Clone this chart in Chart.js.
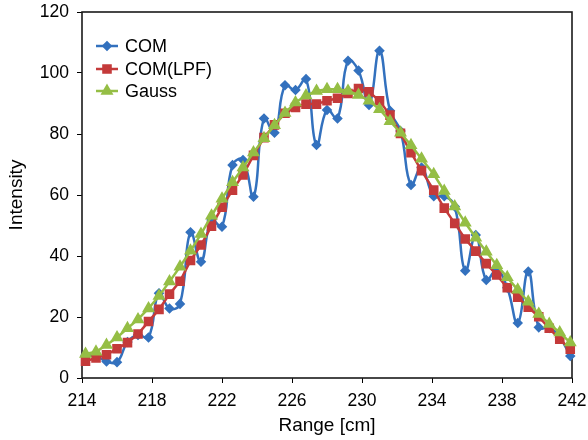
<!DOCTYPE html>
<html>
<head>
<meta charset="utf-8">
<script src="https://cdn.jsdelivr.net/npm/chart.js@4/dist/chart.umd.min.js"></script>
<style>
  body { margin: 0; background: #fff; }
  #wrap { width: 588px; height: 440px; }
</style>
</head>
<body>
<div id="wrap"><canvas id="rangeChart" width="588" height="440"></canvas></div>
<script>
// sample positions along the range axis (cm)
const rangeCm = [
  214.2, 214.8, 215.4, 216.0, 216.6, 217.2, 217.8, 218.4, 219.0, 219.6,
  220.2, 220.8, 221.4, 222.0, 222.6, 223.2, 223.8, 224.4, 225.0, 225.6,
  226.2, 226.8, 227.4, 228.0, 228.6, 229.2, 229.8, 230.4, 231.0, 231.6,
  232.2, 232.8, 233.4, 234.1, 234.7, 235.3, 235.9, 236.5, 237.1, 237.7,
  238.3, 238.9, 239.5, 240.1, 240.7, 241.3, 241.9
];

// raw centre of mass
const comValues = [
  7.5, 7.2, 5.4, 5.2, 11.8, 14.1, 13.3, 27.8, 22.8, 24.3,
  47.8, 38.1, 51.8, 49.6, 69.8, 71.5, 59.4, 85.1, 80.4, 96.0,
  94.4, 98.0, 76.4, 87.9, 85.1, 104.0, 100.8, 89.5, 107.3, 87.6,
  81.0, 63.3, 69.0, 59.6, 59.6, 56.2, 35.2, 46.9, 32.1, 35.4,
  29.6, 18.0, 34.9, 16.6, 16.4, 13.4, 7.2
];

// low-pass filtered
const comLpfValues = [
  5.5, 6.6, 7.6, 9.6, 11.6, 14.4, 18.5, 22.5, 27.5, 31.7,
  38.5, 43.6, 49.8, 56.0, 61.6, 66.6, 73.0, 78.8, 83.0, 86.8,
  88.7, 89.8, 89.8, 90.9, 91.7, 93.3, 94.9, 93.8, 90.9, 86.2,
  80.2, 73.9, 68.0, 61.6, 55.7, 50.7, 45.6, 41.6, 37.5, 33.8,
  29.6, 26.5, 23.2, 20.1, 16.3, 12.7, 9.4
];

// gaussian fit
const gaussValues = [
  7.9, 8.6, 10.8, 13.3, 16.3, 19.2, 22.8, 26.9, 31.6, 36.5,
  41.7, 47.2, 53.2, 58.8, 64.2, 69.0, 73.9, 78.6, 82.9, 86.9,
  90.3, 92.6, 94.1, 94.7, 94.7, 94.1, 92.8, 90.9, 88.1, 84.2,
  80.4, 76.3, 71.9, 66.8, 61.3, 56.2, 50.9, 46.0, 41.4, 37.0,
  33.0, 28.9, 25.0, 21.0, 17.7, 14.9, 11.6
];

const xTicks = [214, 218, 222, 226, 230, 234, 238, 242];
const yTicks = [0, 20, 40, 60, 80, 100, 120];

const FONT = "'Liberation Sans', Arial, sans-serif";
const BLUE = "#3371BE";
const RED = "#C43A3A";
const GREEN = "#95BE45";

function toPoints(vals) {
  return vals.map((v, i) => ({ x: rangeCm[i], y: v }));
}

// black frame round the plot area
const framePlugin = {
  id: "frame",
  beforeDatasetsDraw(chart) {
    const a = chart.chartArea;
    const c = chart.ctx;
    c.save();
    c.strokeStyle = "#1a1a1a";
    c.lineWidth = 1.6;
    c.strokeRect(a.left, a.top, a.right - a.left, a.bottom - a.top);
    c.restore();
  }
};

// legend inside the plot: line + marker, like the spreadsheet one
const legendPlugin = {
  id: "innerLegend",
  afterDraw(chart) {
    const c = chart.ctx;
    const x0 = 96, x1 = 118, textX = 125;
    const rows = [46, 69, 91];
    c.save();
    chart.data.datasets.forEach((ds, i) => {
      const y = rows[i];
      c.strokeStyle = ds.borderColor;
      c.lineWidth = 2.5;
      c.beginPath();
      c.moveTo(x0, y);
      c.lineTo(x1, y);
      c.stroke();
      c.fillStyle = ds.pointBackgroundColor;
      c.strokeStyle = ds.pointBorderColor;
      Chart.helpers.drawPoint(c, {
        pointStyle: ds.pointStyle,
        radius: ds.pointRadius,
        rotation: 0,
        borderWidth: 1
      }, (x0 + x1) / 2, y);
      c.fillStyle = "#000";
      c.font = "18px " + FONT;
      c.textBaseline = "middle";
      c.textAlign = "left";
      c.fillText(ds.label, textX, y + 1);
    });
    c.restore();
  }
};

const ctx = document.getElementById("rangeChart").getContext("2d");

new Chart(ctx, {
  type: "line",
  data: {
    datasets: [
      {
        label: "COM",
        data: toPoints(comValues),
        borderColor: BLUE,
        borderWidth: 2.5,
        pointStyle: "rectRot",
        pointRadius: 3.5,
        pointBackgroundColor: BLUE,
        pointBorderColor: BLUE,
        tension: 0.45,
        order: 3,
        clip: false
      },
      {
        label: "COM(LPF)",
        data: toPoints(comLpfValues),
        borderColor: RED,
        borderWidth: 2.5,
        pointStyle: "rect",
        pointRadius: 5,
        pointBackgroundColor: RED,
        pointBorderColor: RED,
        tension: 0,
        order: 2,
        clip: false
      },
      {
        label: "Gauss",
        data: toPoints(gaussValues),
        borderColor: GREEN,
        borderWidth: 2.5,
        pointStyle: "triangle",
        pointRadius: 5,
        pointBackgroundColor: GREEN,
        pointBorderColor: GREEN,
        tension: 0,
        order: 1,
        clip: false
      }
    ]
  },
  options: {
    responsive: false,
    animation: false,
    layout: { padding: { top: 12, right: 16, left: 0, bottom: 0 } },
    plugins: {
      legend: { display: false },
      tooltip: { enabled: false }
    },
    scales: {
      x: {
        type: "linear",
        min: 214,
        max: 242,
        afterBuildTicks(s) { s.ticks = xTicks.map(v => ({ value: v })); },
        afterFit(s) {
          s.height = 62;
          s.paddingLeft = 0;
          s.paddingRight = 0;
        },
        border: { display: false },
        grid: {
          drawOnChartArea: false,
          drawTicks: true,
          tickLength: 5,
          tickColor: "#000",
          lineWidth: 1
        },
        ticks: {
          color: "#000",
          padding: 8,
          maxRotation: 0,
          font: { family: FONT, size: 17.5 }
        },
        title: {
          display: true,
          text: "Range [cm]",
          color: "#000",
          padding: { top: 0, bottom: 3 },
          font: { family: FONT, size: 19 }
        }
      },
      y: {
        min: 0,
        max: 120,
        afterBuildTicks(s) { s.ticks = yTicks.map(v => ({ value: v })); },
        afterFit(s) {
          s.width = 82;
          s.paddingTop = 0;
          s.paddingBottom = 0;
        },
        border: { display: false },
        grid: {
          drawOnChartArea: false,
          drawTicks: true,
          tickLength: 5,
          tickColor: "#000",
          lineWidth: 1
        },
        ticks: {
          color: "#000",
          padding: 8,
          font: { family: FONT, size: 17.5 }
        },
        title: {
          display: true,
          text: "Intensity",
          color: "#000",
          padding: { top: 5, bottom: 0 },
          font: { family: FONT, size: 19 }
        }
      }
    }
  },
  plugins: [framePlugin, legendPlugin]
});
</script>
</body>
</html>
